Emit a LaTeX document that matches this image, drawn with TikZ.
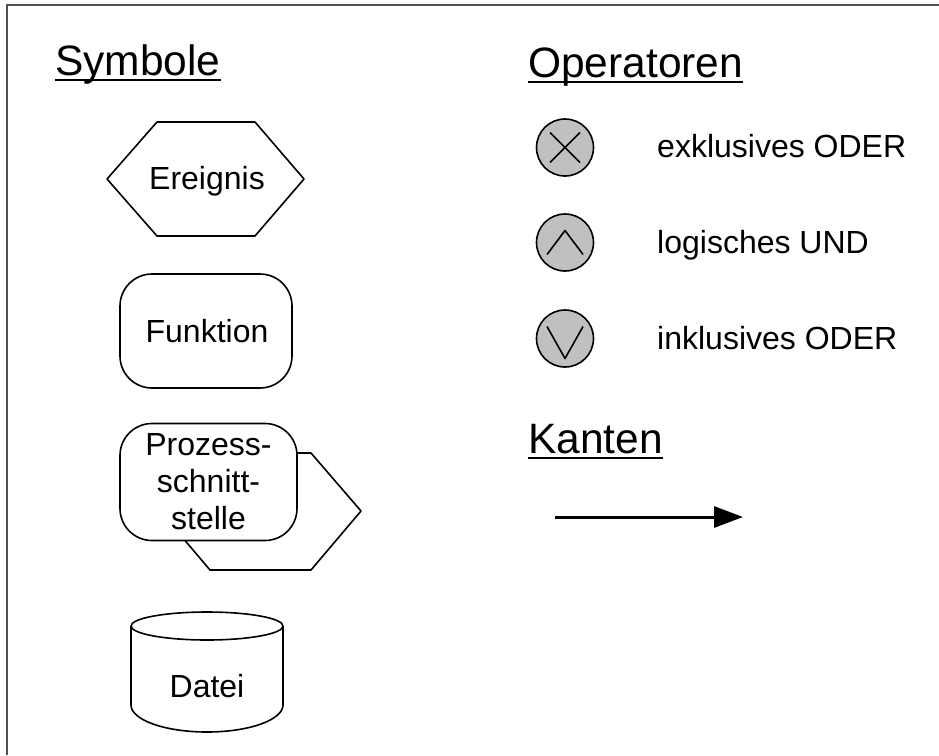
\documentclass[tikz,border=0pt]{standalone}
\usepackage{fontspec}
\setmainfont{Liberation Sans}
\usetikzlibrary{arrows.meta}
\definecolor{opgray}{RGB}{192,192,192}
\definecolor{framegray}{RGB}{80,80,80}
\tikzset{
  body/.style={font=\fontsize{32}{37}\selectfont, inner sep=0pt},
  heading/.style={font=\fontsize{42.5}{50}\selectfont, inner sep=0pt, anchor=base west},
  underline/.style={line width=2.6pt},
  outline/.style={draw=black, line width=1.6pt, line join=round},
  opcircle/.style={circle, draw=black, line width=1.6pt, fill=opgray,
    minimum size=57pt, inner sep=0pt},
  opsign/.style={line width=1.6pt, line join=round},
  kante/.style={line width=3pt, -{Triangle[length=29pt,width=21pt]}},
  frame/.style={draw=framegray, line width=1.5pt},
}
\begin{document}
\begin{tikzpicture}[x=1pt,y=-1pt]
\useasboundingbox (0,0) rectangle (939,755);
\fill[white] (0,0) rectangle (939,755);
\draw[frame] (7,755) -- (7,5) -- (939,5);

% headings
\node[heading] (hsym) at (55,75) {Symbole};
\draw[underline] ([yshift=-5pt]hsym.base west) -- ([yshift=-5pt]hsym.base east);
\node[heading] (hop) at (528,77) {Operatoren};
\draw[underline] ([yshift=-5pt]hop.base west) -- ([yshift=-5pt]hop.base east);
\node[heading] (hkan) at (528,453) {Kanten};
\draw[underline] ([yshift=-5pt]hkan.base west) -- ([yshift=-5pt]hkan.base east);

% event
\draw[outline] (107,179) -- (157,122) -- (255,122) -- (304,179)
  -- (255,236) -- (157,236) -- cycle;
\node[body, anchor=base] (ereignis) at (207,189) {Ereignis};

% function
\node[outline, rounded corners=32pt, minimum width=172pt, minimum height=114pt]
  (funktion) at (206,331) {};
\node[body, anchor=base] (funktxt) at (207,342) {Funktion};

% process interface
\draw[outline, fill=white] (160,511) -- (210,453) -- (311,453) -- (361,511)
  -- (311,570) -- (210,570) -- cycle;
\node[outline, fill=white, rounded corners=32pt, minimum width=177pt,
  minimum height=117pt, body, align=center] (prozess) at (208.5,482)
  {Prozess-\\schnitt-\\stelle};

% file
\draw[outline, fill=white] (131,626) -- (131,705)
  arc[start angle=180, end angle=0, x radius=76, y radius=27]
  -- (283,626);
\draw[outline] (207,626) ellipse [x radius=76, y radius=14];
\node[body, anchor=base] (datei) at (207,697) {Datei};

% operators
\node[opcircle] (xor) at (565,147.5) {};
\draw[opsign] ([shift={(-15,-15)}]xor.center) -- ([shift={(15,15)}]xor.center);
\draw[opsign] ([shift={(-15,15)}]xor.center) -- ([shift={(15,-15)}]xor.center);
\node[body, anchor=base west] (xortxt) at (657,157) {exklusives ODER};

\node[opcircle] (und) at (565,242.5) {};
\draw[opsign] ([shift={(-18,12)}]und.center) -- ([shift={(0,-12)}]und.center)
  -- ([shift={(18,12)}]und.center);
\node[body, anchor=base west] (undtxt) at (657,253) {logisches UND};

\node[opcircle] (oder) at (565,338.5) {};
\draw[opsign] ([shift={(-18,-12)}]oder.center) -- ([shift={(0,20)}]oder.center)
  -- ([shift={(18,-12)}]oder.center);
\node[body, anchor=base west] (odertxt) at (657,349) {inklusives ODER};

% edge
\coordinate (kstart) at (555,517);
\coordinate (kend) at (743,517);
\draw[kante] (kstart) -- (kend);
\end{tikzpicture}
\end{document}
